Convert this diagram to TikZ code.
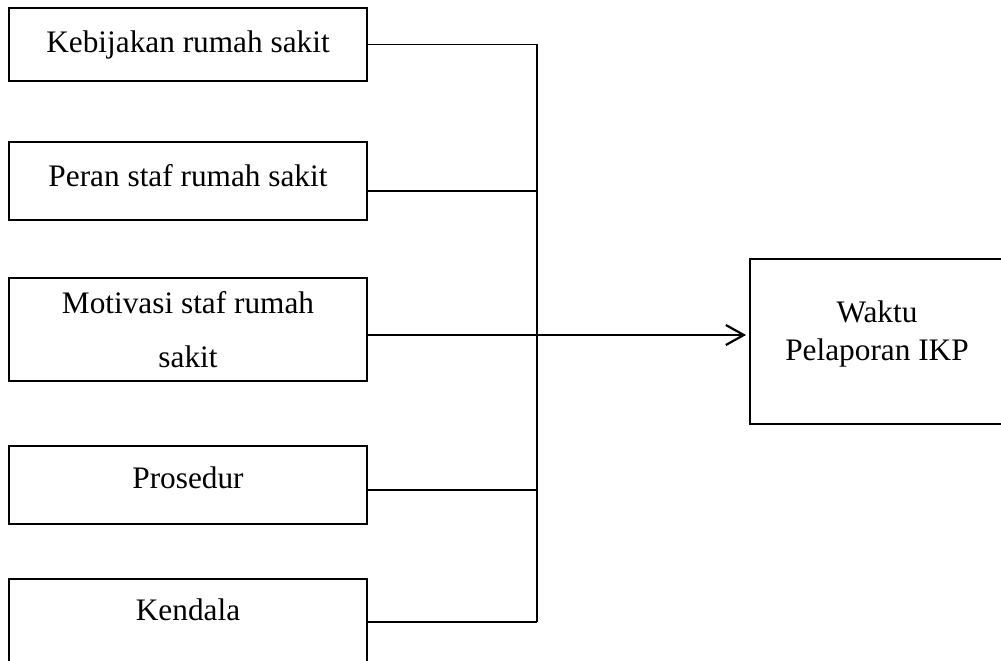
\documentclass[tikz,border=0pt]{standalone}
\usepackage{fontspec}
\setmainfont{Liberation Serif}
\usetikzlibrary{arrows.meta}

\begin{document}
\begin{tikzpicture}[x=1pt,y=-1pt,line width=1.8pt,
  box/.style={draw,minimum width=358pt,align=center,inner sep=0pt,
    font=\fontsize{31.3}{38}\selectfont},
  arr/.style={-{Straight Barb[length=18pt,width=20pt]},line width=2.2pt}]
\useasboundingbox (0,0) rectangle (1001,661);
\clip (0,0) rectangle (1001,661);
\node[box,minimum height=73pt] (kebijakan) at (188,44.5) {Kebijakan rumah sakit};
\node[box,minimum height=78pt,text depth=12pt] (peran) at (188,181) {Peran staf rumah sakit};
\node[box,minimum height=103pt] (motivasi) at (188,329.5) {Motivasi staf rumah\\[16pt]sakit};
\node[box,minimum height=78pt,text depth=14pt] (prosedur) at (188,485) {Prosedur};
\node[box,minimum height=86pt,text depth=24pt] (kendala) at (188,622) {Kendala};
\node[box,minimum width=254pt,minimum height=165pt,text depth=21pt] (waktu) at (877,341.5) {Waktu\\Pelaporan IKP};
\coordinate (bus) at (537,0);
% garis ke bus
\draw (kebijakan.east) -- (kebijakan.east -| bus);
\draw ([yshift=-10pt]peran.east) -- ([yshift=-10pt]peran.east -| bus);
\draw ([yshift=-5pt]prosedur.east) -- ([yshift=-5pt]prosedur.east -| bus);
\draw (kendala.east) -- (kendala.east -| bus);
\draw (kebijakan.east -| bus) -- (kendala.east -| bus);
% panah ke waktu
\draw[arr,shorten >=3pt] ([yshift=-5.5pt]motivasi.east) -- ([yshift=-5.5pt]motivasi.east -| waktu.west);
\end{tikzpicture}
\end{document}
